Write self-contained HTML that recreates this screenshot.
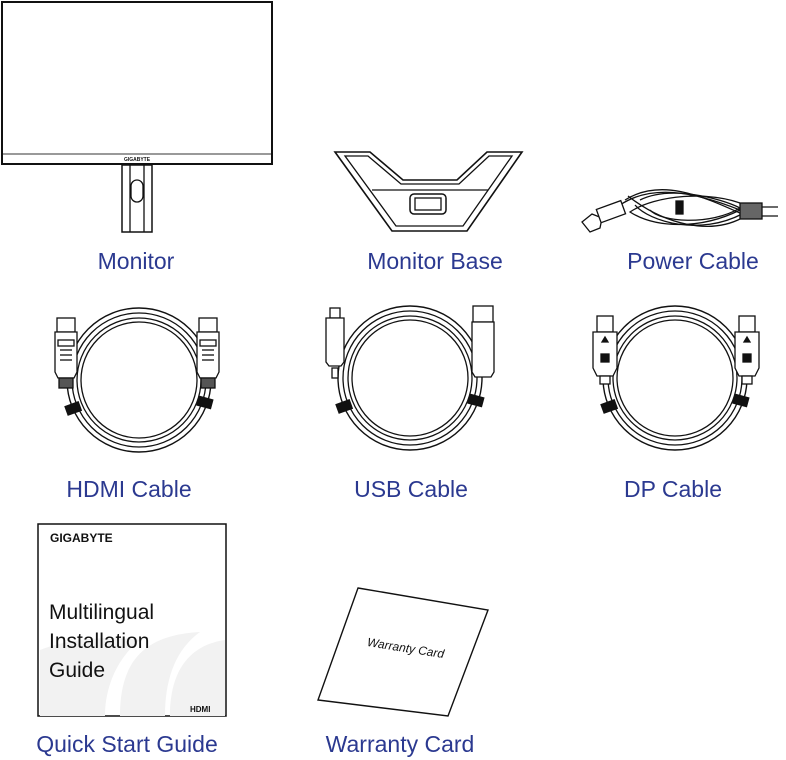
<!DOCTYPE html>
<html><head><meta charset="utf-8"><style>
body{margin:0;background:#fff;width:786px;height:760px;overflow:hidden}
svg{position:absolute;left:0;top:0}
.l{font-family:"Liberation Sans",sans-serif;font-size:23px;fill:#2b3990}
</style></head><body>
<svg width="786" height="760" viewBox="0 0 786 760" fill="none" stroke="#111" stroke-width="1.3">
<defs>
<g id="cab">
 <circle cx="0" cy="0" r="72" stroke-width="1.4"/>
 <circle cx="0" cy="0" r="67"/>
 <circle cx="0" cy="0" r="62"/>
 <circle cx="0" cy="0" r="58"/>
 <rect x="-73" y="24" width="14" height="9" fill="#111" transform="rotate(-20 -66 28)"/>
 <rect x="59" y="18" width="14" height="9" fill="#111" transform="rotate(15 66 22)"/>
</g>
<g id="hd">
 <rect x="-9" y="-62" width="18" height="14" fill="#fff"/>
 <path d="M-11 -48 h22 v40 l-3 6 h-16 l-3 -6z" fill="#fff"/>
 <rect x="-8" y="-40" width="16" height="6"/>
 <line x1="-6" y1="-30" x2="6" y2="-30"/><line x1="-6" y1="-25" x2="6" y2="-25"/><line x1="-6" y1="-20" x2="6" y2="-20"/>
 <rect x="-7" y="-2" width="14" height="10" fill="#555"/>
</g>
<g id="dp">
 <rect x="-8" y="-62" width="16" height="16" fill="#fff"/>
 <path d="M-12 -46 h24 v36 l-4 8 h-16 l-4 -8z" fill="#fff"/>
 <path d="M-3 -36 l3 -5 l3 5z" fill="#111"/>
 <rect x="-4" y="-24" width="8" height="8" fill="#111"/>
 <rect x="-5" y="-2" width="10" height="8" fill="#fff"/>
</g>
</defs>

<!-- Monitor -->
<rect x="2" y="2" width="270" height="162" stroke-width="2"/>
<line x1="3" y1="154" x2="271" y2="154" stroke="#999" stroke-width="2"/>
<text x="137" y="161" font-family="Liberation Sans" font-size="5" font-weight="bold" fill="#111" stroke="none" text-anchor="middle">GIGABYTE</text>
<rect x="122" y="165" width="30" height="67" stroke-width="1.5"/>
<line x1="130" y1="165" x2="130" y2="232"/><line x1="144" y1="165" x2="144" y2="232"/>
<rect x="131" y="180" width="12" height="22" rx="6"/>

<!-- Base -->
<path d="M335 152 L370 152 L403 180 L457 180 L487 152 L522 152 L467 231 L392 231 Z" stroke-width="1.6"/>
<path d="M345 156 L368 156 L401 184 L459 184 L489 156 L512 156 L463 226 L396 226 Z"/>
<line x1="372" y1="190" x2="488" y2="190"/>
<rect x="410" y="194" width="36" height="20" rx="4" stroke-width="1.5"/>
<rect x="415" y="198" width="26" height="12"/>

<!-- Power cable -->
<path d="M620 205 C650 185 690 190 740 210 C700 230 655 228 630 212 C655 195 710 190 745 205"/>
<path d="M625 200 C660 178 700 195 742 214 C700 236 650 222 635 205"/>
<path d="M640 200 C670 185 720 198 740 208 C710 226 660 222 650 210"/>
<path d="M628 196 C665 225 710 235 742 218"/>
<rect x="676" y="201" width="7" height="13" fill="#111"/>
<path d="M582 222 l10 -8 l10 4 l-2 10 l-10 4z"/>
<rect x="598" y="205" width="26" height="14" transform="rotate(-20 610 212)" fill="#fff"/>
<rect x="740" y="203" width="22" height="16" fill="#666"/>
<path d="M762 207 h16 M762 216 h16"/>

<!-- Cables -->
<use href="#cab" x="139" y="380"/>
<use href="#hd" x="66" y="380"/><use href="#hd" x="208" y="380"/>
<use href="#cab" x="410" y="378"/>
<g transform="translate(335,378)"><rect x="-5" y="-70" width="10" height="10" fill="#fff"/><path d="M-9 -60 h18 v44 l-3 4 h-12 l-3 -4z" fill="#fff"/><rect x="-3" y="-10" width="6" height="10" fill="#fff"/></g>
<g transform="translate(483,378)"><rect x="-10" y="-72" width="20" height="16" fill="#fff"/><path d="M-11 -56 h22 v50 l-3 5 h-16 l-3 -5z" fill="#fff"/></g>
<use href="#cab" x="675" y="378"/>
<use href="#dp" x="605" y="378"/><use href="#dp" x="747" y="378"/>

<!-- Quick start guide -->
<rect x="38" y="524" width="188" height="192" stroke-width="1.5"/>
<path d="M120 716 C120 660 145 635 200 632 C175 650 165 680 165 716Z M170 716 C170 670 190 645 225 640 L225 716Z M40 716 L40 650 C70 638 110 636 140 640 C115 660 105 690 105 716Z" fill="#f2f2f2" stroke="none"/>
<text x="50" y="542" font-family="Liberation Sans" font-size="12" font-weight="bold" fill="#111" stroke="none">GIGABYTE</text>
<text font-family="Liberation Sans" font-size="21" fill="#111" stroke="none"><tspan x="49" y="619">Multilingual</tspan><tspan x="49" y="648">Installation</tspan><tspan x="49" y="677">Guide</tspan></text>
<text x="190" y="712" font-family="Liberation Sans" font-size="8" font-weight="bold" fill="#111" stroke="none">HDMI</text>

<!-- Warranty card -->
<path d="M358 588 L488 610 L448 716 L318 700 Z" stroke-width="1.4"/>
<text x="405" y="652" transform="rotate(9 405 652)" font-family="Liberation Sans" font-size="12" font-style="italic" fill="#111" stroke="none" text-anchor="middle">Warranty Card</text>

<g stroke="none">
<text class="l" x="136" y="269" text-anchor="middle">Monitor</text>
<text class="l" x="435" y="269" text-anchor="middle">Monitor Base</text>
<text class="l" x="693" y="269" text-anchor="middle">Power Cable</text>
<text class="l" x="129" y="497" text-anchor="middle">HDMI Cable</text>
<text class="l" x="411" y="497" text-anchor="middle">USB Cable</text>
<text class="l" x="673" y="497" text-anchor="middle">DP Cable</text>
<text class="l" x="127" y="752" text-anchor="middle">Quick Start Guide</text>
<text class="l" x="400" y="752" text-anchor="middle">Warranty Card</text>
</g>
</svg>
</body></html>
